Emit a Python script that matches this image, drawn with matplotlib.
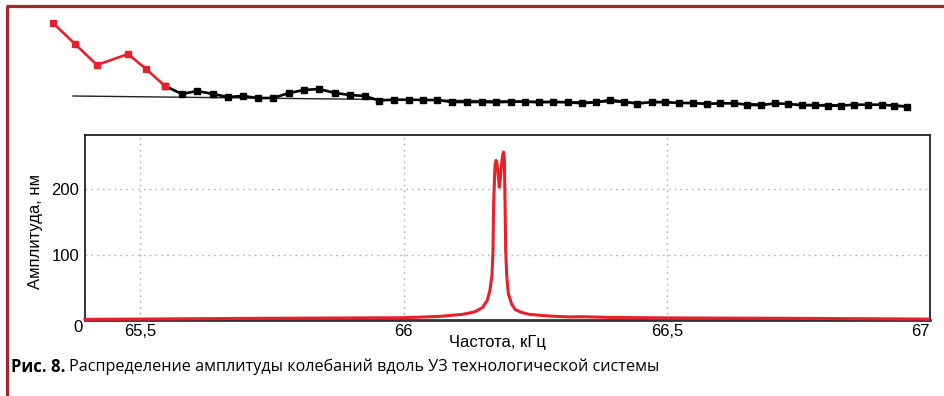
import matplotlib
matplotlib.use("Agg")
import matplotlib.pyplot as plt
from matplotlib.lines import Line2D

# ---------------- data ----------------
# top schematic: amplitude distribution along the system (picture units)
top_red_x = [53, 75, 97, 128, 146, 165]
top_red_y = [23, 44, 65, 54, 69, 86]
top_black_x = [165, 182, 197, 213, 228, 243, 258, 273, 289, 304, 319, 335, 350, 365, 379,
               394, 409, 423, 437, 452, 467, 482, 496, 511, 525, 539, 553, 568, 582,
               596, 610, 624, 637, 652, 665, 679, 693, 707, 720, 734, 747, 761, 775,
               788, 802, 815, 828, 841, 854, 868, 882, 894, 907]
top_black_y = [86, 94, 91, 94, 97, 96, 98, 98, 93, 90, 89, 93, 95, 96, 100.5,
               99.7, 99.7, 100, 100, 102, 102, 102, 102.3, 101.7, 101.7, 102.3, 102, 102.3, 103.3,
               102.3, 100, 101.7, 103.7, 102, 102, 103, 103, 104, 103.3, 103.3, 104.7, 105.3, 103.3,
               104, 105.3, 105.3, 105.7, 105.7, 104.7, 104.7, 104.7, 105.7, 106.7]
ref_line_x = [73, 907]
ref_line_y = [96, 105.5]

# bottom chart: frequency response
freq = [65.395, 65.494, 65.708, 66.000, 66.068, 66.112, 66.135, 66.150, 66.159, 66.164,
        66.168, 66.170, 66.171, 66.173, 66.174, 66.1755, 66.177, 66.178, 66.180, 66.182,
        66.184, 66.187, 66.189, 66.190, 66.1915, 66.193, 66.194, 66.196, 66.199, 66.205,
        66.212, 66.224, 66.239, 66.277, 66.315, 66.339, 66.391, 66.497, 66.751, 66.997]
amp = [1.0, 1.4, 2.5, 3.5, 5.5, 8.6, 12.4, 19, 30, 45,
       68, 107, 172, 221, 238, 244, 243, 236, 221, 203,
       217, 244, 255, 257, 245, 172, 107, 68, 41, 25,
       16, 11.6, 8.6, 6, 4.7, 5, 4, 3.2, 2.5, 1.4]

xticks = [65.5, 66.0, 66.5, 67.0]
xtick_labels = ["65,5", "66", "66,5", "67"]
yticks = [100, 200]
ytick_labels = ["100", "200"]

RED = "#e8202a"
FRAME = "#9e2a2f"

W, H = 945, 396
fig = plt.figure(figsize=(W / 100, H / 100), dpi=100)
fig.patch.set_facecolor("white")

# ---- top schematic ----
axt = fig.add_axes([0, 1 - 130 / H, 1, 130 / H])
axt.set_xlim(0, W)
axt.set_ylim(130, 0)
axt.axis("off")
axt.plot(ref_line_x, ref_line_y, color="#222222", lw=1.0, zorder=1)
axt.plot(top_black_x, top_black_y, color="black", lw=1.9, marker="s", ms=4.0,
         mfc="black", mec="black", zorder=2)
axt.plot(top_red_x, top_red_y, color=RED, lw=1.9, marker="s", ms=4.6,
         mfc=RED, mec=RED, zorder=3)

# ---- bottom chart ----
L, R, T, B = 85, 930, 135, 320
ax = fig.add_axes([L / W, 1 - B / H, (R - L) / W, (B - T) / H])
ax.set_xlim(65.395, 67.0)
ax.set_ylim(0, 283)
ax.plot(freq, amp, color=RED, lw=2.2, solid_joinstyle="round", zorder=3, clip_on=False)
for xv in xticks[:-1]:
    ax.axvline(xv, color="#b0b0b0", lw=1.0, ls=(0, (1.2, 3)), zorder=1)
for yv in yticks:
    ax.axhline(yv, color="#b0b0b0", lw=1.0, ls=(0, (1.2, 3)), zorder=1)
ax.set_xticks(xticks)
ax.set_xticklabels(xtick_labels)
ax.set_yticks(yticks)
ax.set_yticklabels(ytick_labels)
ax.tick_params(length=0, labelsize=12, pad=4)
ax.tick_params(axis="x", pad=3)
for lab in ax.get_xticklabels() + ax.get_yticklabels():
    lab.set_family("Liberation Sans")
ax.get_xticklabels()[-1].set_horizontalalignment("right")
for side in ["left", "top", "right"]:
    ax.spines[side].set_color("#222222")
    ax.spines[side].set_linewidth(1.3)
ax.spines["bottom"].set_color("#333333")
ax.spines["bottom"].set_linewidth(2.0)
ax.text(78, 327, "0", transform=None, fontsize=12, family="Liberation Sans",
        ha="center", va="center")
ax.texts[-1].set_transform(fig.dpi_scale_trans)
ax.texts[-1].set_position((78 / 100, (H - 327) / 100))
ax.set_xlabel("Частота, кГц", fontsize=12, family="Liberation Sans")
ax.xaxis.set_label_coords((497 - L) / (R - L), -(342 - B) / (B - T))
ax.xaxis.label.set_verticalalignment("center")
ax.set_ylabel("Амплитуда, нм", fontsize=12, family="Liberation Sans")
ax.yaxis.label.set_verticalalignment("center")
ax.yaxis.label.set_horizontalalignment("center")
ax.yaxis.set_label_coords(-(L - 36) / (R - L), 0.48)

# ---- frame lines ----
fig.add_artist(Line2D([7 / W, 7 / W], [0, 1 - 6 / H], color=FRAME, lw=2.3,
                      transform=fig.transFigure, solid_capstyle="butt"))
fig.add_artist(Line2D([6 / W, 1], [1 - 6 / H, 1 - 6 / H], color=FRAME, lw=2.3,
                      transform=fig.transFigure, solid_capstyle="butt"))

# ---- caption ----
cap_y = 1 - 367 / H
t1 = fig.text(11 / W, cap_y, "Рис. 8.", fontsize=12, fontweight="bold",
              family="Open Sans", va="center", ha="left")
fig.canvas.draw()
bb = t1.get_window_extent(renderer=fig.canvas.get_renderer())
fig.text(bb.x1 / W + 4 / W, cap_y,
         "Распределение амплитуды колебаний вдоль УЗ технологической системы",
         fontsize=11.6, family="Open Sans", va="center", ha="left")

fig.savefig("out.png", dpi=100)
